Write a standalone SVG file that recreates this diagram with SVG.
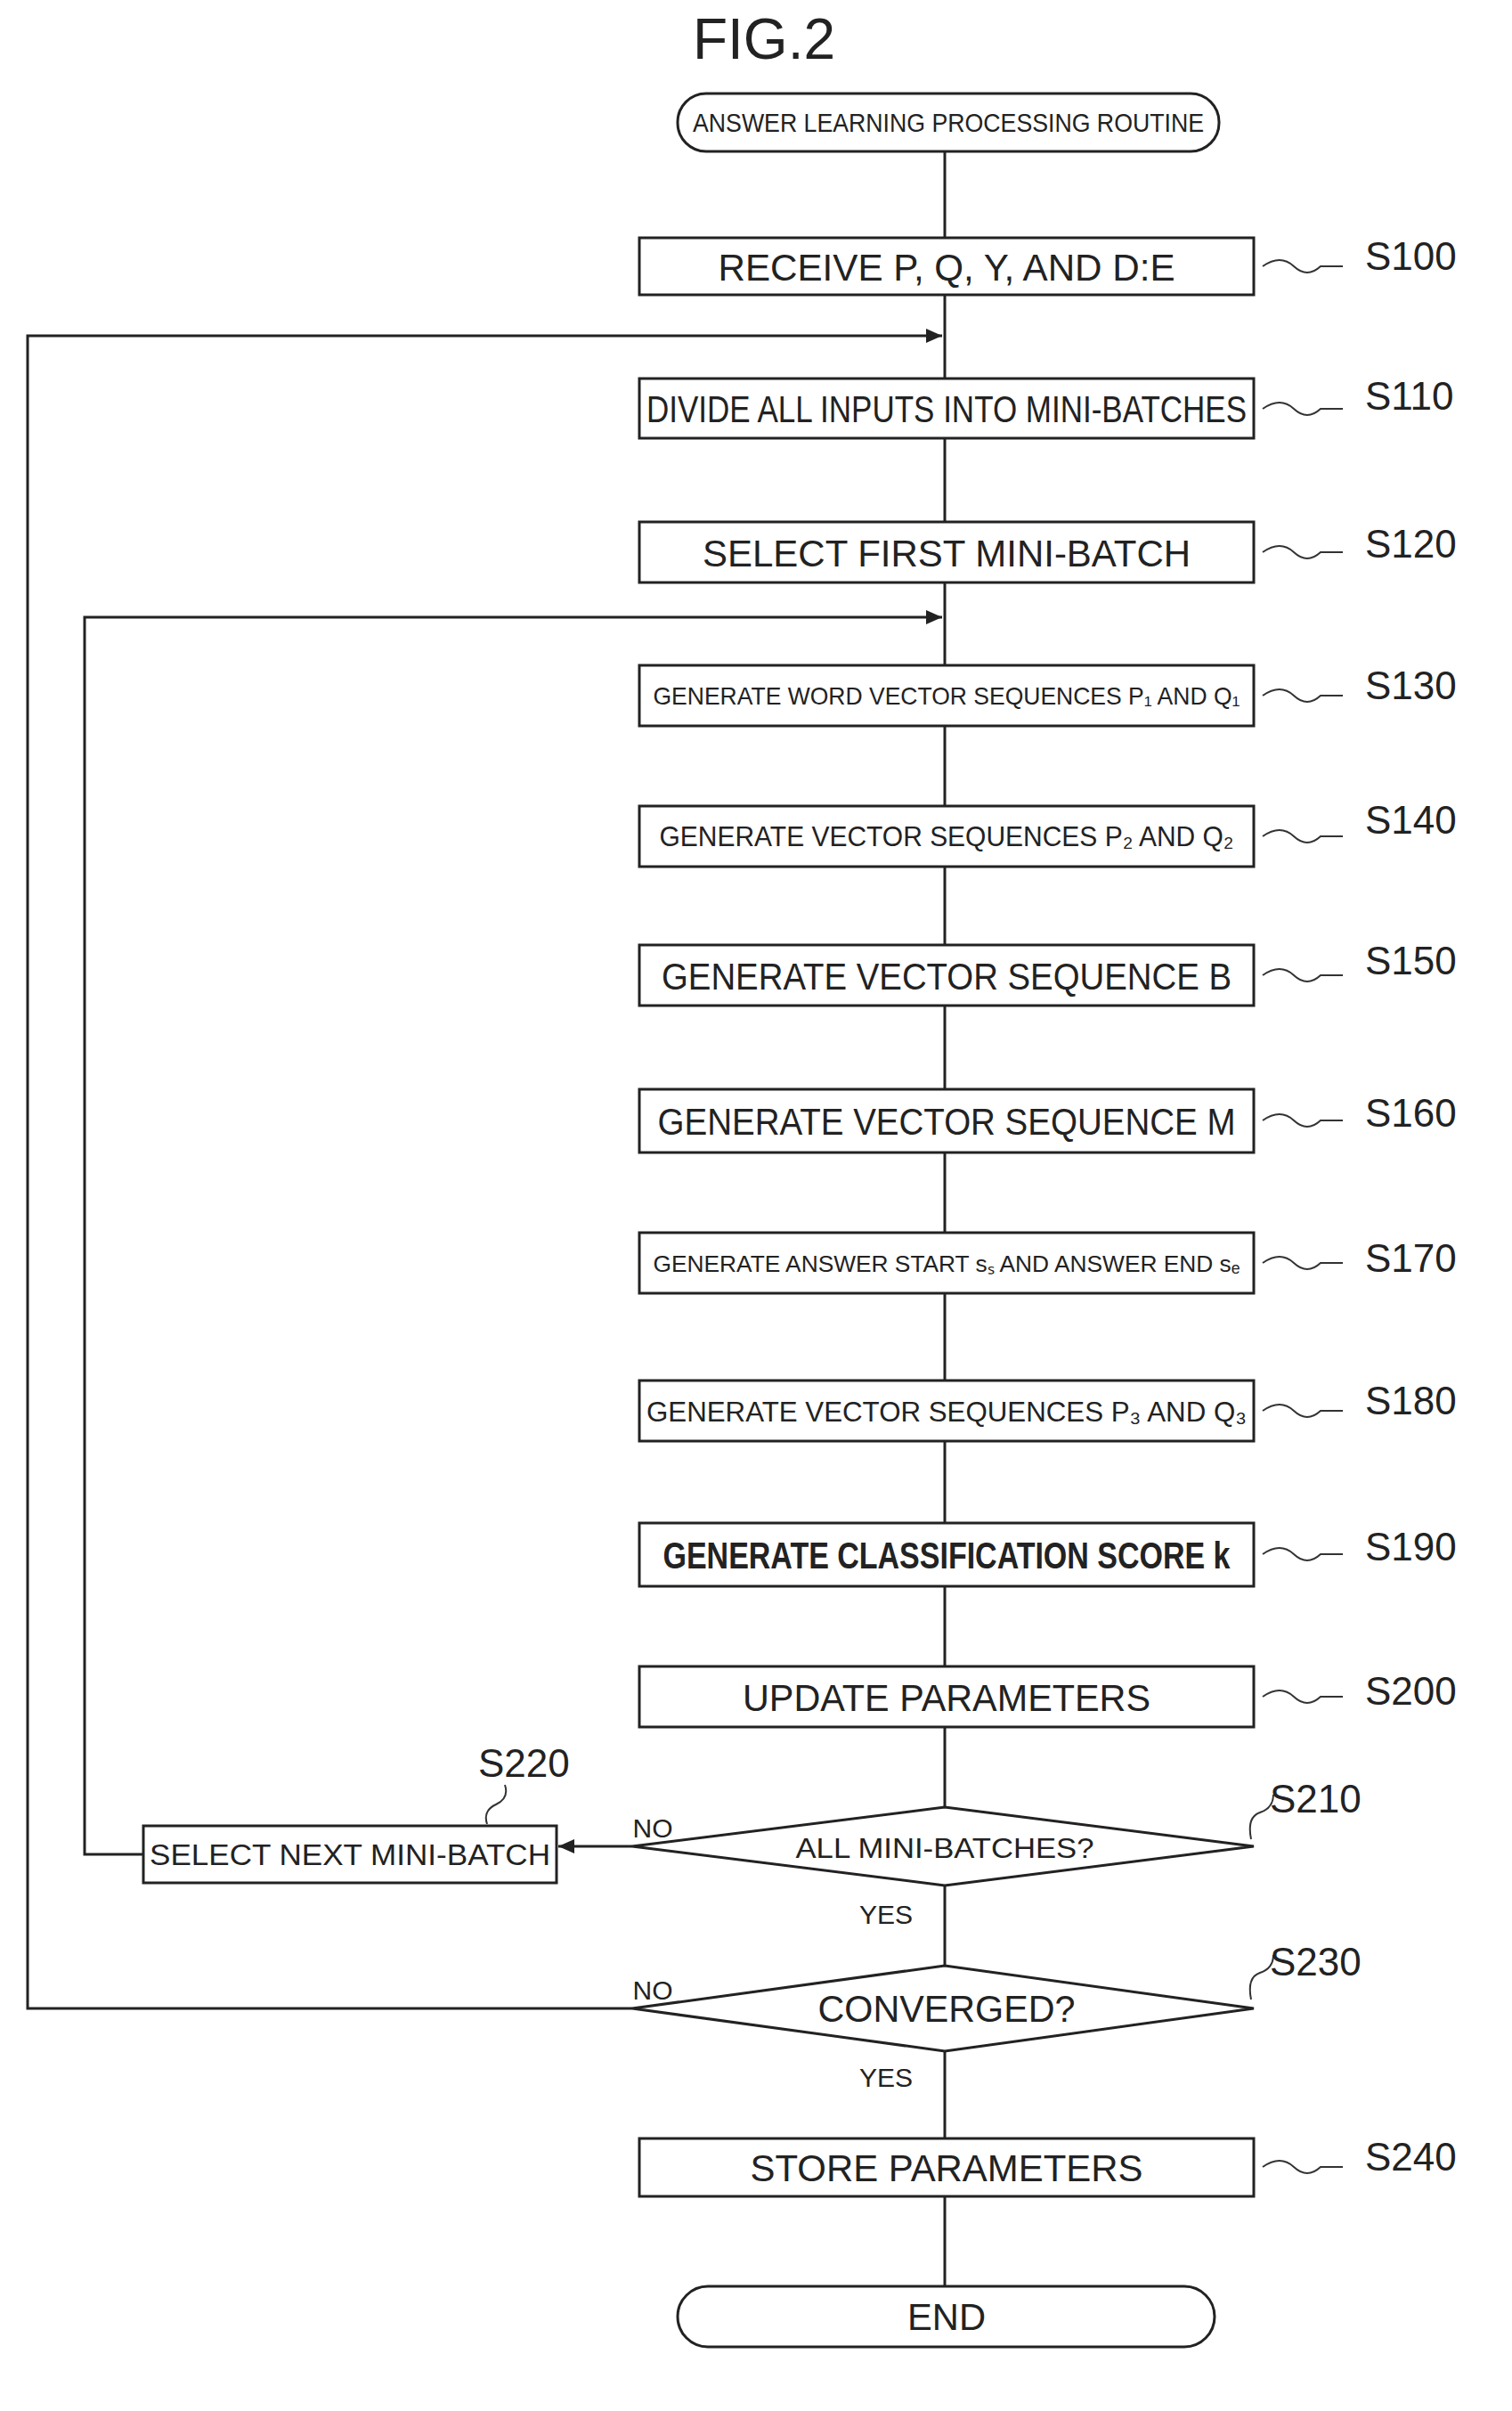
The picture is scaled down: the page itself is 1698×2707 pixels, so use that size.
<svg xmlns="http://www.w3.org/2000/svg" width="1698" height="2707" viewBox="0 0 1698 2707">
<style>
.b{fill:#fff;stroke:#222;stroke-width:3}
.l{fill:none;stroke:#222;stroke-width:3}
.s{fill:none;stroke:#333;stroke-width:2}
text{font-family:"Liberation Sans",Arial,sans-serif;fill:#222;text-anchor:middle}
.t{font-size:42px}
.lab{font-size:44px;text-anchor:start}
.yn{font-size:30px}
</style>
<defs><marker id="a" markerWidth="10" markerHeight="10" refX="9" refY="5" orient="auto" markerUnits="userSpaceOnUse"><path d="M0,0 L10,5 L0,10 Z" fill="#222"/></marker>
<marker id="a2" markerWidth="20" markerHeight="20" refX="18" refY="10" orient="auto" markerUnits="userSpaceOnUse"><path d="M0,2 L18,10 L0,18 Z" fill="#222"/></marker></defs>
<text x="858" y="66" style="font-size:64px">FIG.2</text>
<g id="connectors">
<path class="l" d="M1061,170 V2567"/>
<path class="l" d="M710,2255 H31 V377 H1058" marker-end="url(#a2)"/>
<path class="l" d="M161,2082 H95 V693 H1058" marker-end="url(#a2)"/>
<path class="l" d="M710,2073 H627" marker-end="url(#a2)"/>
</g>
<g id="start"><rect class="b" x="761" y="105" width="608" height="65" rx="32"/><text x="1065" y="148" style="font-size:30px" textLength="574" lengthAdjust="spacingAndGlyphs">ANSWER LEARNING PROCESSING ROUTINE</text></g>
<g id="S100"><rect class="b" x="718" y="267" width="690" height="64"/><text class="t" x="1063" y="315" textLength="513" lengthAdjust="spacingAndGlyphs">RECEIVE P, Q, Y, AND D:E</text></g>
<g id="S110"><rect class="b" x="718" y="425" width="690" height="67"/><text class="t" x="1063" y="474" textLength="674" lengthAdjust="spacingAndGlyphs">DIVIDE ALL INPUTS INTO MINI-BATCHES</text></g>
<g id="S120"><rect class="b" x="718" y="586" width="690" height="68"/><text class="t" x="1063" y="636" textLength="548" lengthAdjust="spacingAndGlyphs">SELECT FIRST MINI-BATCH</text></g>
<g id="S130"><rect class="b" x="718" y="747" width="690" height="68"/><text x="1063" y="791" style="font-size:28px" textLength="659" lengthAdjust="spacingAndGlyphs">GENERATE WORD VECTOR SEQUENCES P₁ AND Q₁</text></g>
<g id="S140"><rect class="b" x="718" y="905" width="690" height="68"/><text x="1063" y="950" style="font-size:31px" textLength="645" lengthAdjust="spacingAndGlyphs">GENERATE VECTOR SEQUENCES P₂ AND Q₂</text></g>
<g id="S150"><rect class="b" x="718" y="1061" width="690" height="68"/><text class="t" x="1063" y="1111" textLength="640" lengthAdjust="spacingAndGlyphs">GENERATE VECTOR SEQUENCE B</text></g>
<g id="S160"><rect class="b" x="718" y="1223" width="690" height="71"/><text class="t" x="1063" y="1274" textLength="649" lengthAdjust="spacingAndGlyphs">GENERATE VECTOR SEQUENCE M</text></g>
<g id="S170"><rect class="b" x="718" y="1384" width="690" height="68"/><text x="1063" y="1428" style="font-size:26px" textLength="659" lengthAdjust="spacingAndGlyphs">GENERATE ANSWER START sₛ AND ANSWER END sₑ</text></g>
<g id="S180"><rect class="b" x="718" y="1550" width="690" height="68"/><text x="1063" y="1596" style="font-size:32px" textLength="674" lengthAdjust="spacingAndGlyphs">GENERATE VECTOR SEQUENCES P₃ AND Q₃</text></g>
<g id="S190"><rect class="b" x="718" y="1710" width="690" height="71"/><text class="t" x="1063" y="1761" style="font-weight:bold" textLength="637" lengthAdjust="spacingAndGlyphs">GENERATE CLASSIFICATION SCORE k</text></g>
<g id="S200"><rect class="b" x="718" y="1871" width="690" height="68"/><text class="t" x="1063" y="1921" textLength="458" lengthAdjust="spacingAndGlyphs">UPDATE PARAMETERS</text></g>
<g id="S210"><polygon class="b" points="710,2073 1061,2029 1408,2073 1061,2117"/><text x="1061" y="2086" style="font-size:32px" textLength="335" lengthAdjust="spacingAndGlyphs">ALL MINI-BATCHES?</text></g>
<g id="S220"><rect class="b" x="161" y="2050" width="464" height="64"/><text x="393" y="2094" style="font-size:34px" textLength="450" lengthAdjust="spacingAndGlyphs">SELECT NEXT MINI-BATCH</text></g>
<g id="S230"><polygon class="b" points="710,2255 1061,2207 1408,2255 1061,2303"/><text class="t" x="1063" y="2270" textLength="289" lengthAdjust="spacingAndGlyphs">CONVERGED?</text></g>
<g id="S240"><rect class="b" x="718" y="2401" width="690" height="65"/><text class="t" x="1063" y="2449" textLength="441" lengthAdjust="spacingAndGlyphs">STORE PARAMETERS</text></g>
<g id="end"><rect class="b" x="761" y="2567" width="603" height="68" rx="34"/><text class="t" x="1063" y="2616" textLength="88" lengthAdjust="spacingAndGlyphs">END</text></g>
<g id="labels">
<text class="yn" x="733" y="2063">NO</text><text class="yn" x="733" y="2245">NO</text>
<text class="yn" x="995" y="2160">YES</text><text class="yn" x="995" y="2343">YES</text>
<path class="s" d="M1418,299 q20,-14 35,0 t30,0 h25"/><text class="lab" x="1533" y="303">S100</text>
<path class="s" d="M1418,459 q20,-14 35,0 t30,0 h25"/><text class="lab" x="1533" y="460">S110</text>
<path class="s" d="M1418,620 q20,-14 35,0 t30,0 h25"/><text class="lab" x="1533" y="626">S120</text>
<path class="s" d="M1418,781 q20,-14 35,0 t30,0 h25"/><text class="lab" x="1533" y="785">S130</text>
<path class="s" d="M1418,939 q20,-14 35,0 t30,0 h25"/><text class="lab" x="1533" y="936">S140</text>
<path class="s" d="M1418,1095 q20,-14 35,0 t30,0 h25"/><text class="lab" x="1533" y="1094">S150</text>
<path class="s" d="M1418,1258 q20,-14 35,0 t30,0 h25"/><text class="lab" x="1533" y="1265">S160</text>
<path class="s" d="M1418,1418 q20,-14 35,0 t30,0 h25"/><text class="lab" x="1533" y="1428">S170</text>
<path class="s" d="M1418,1584 q20,-14 35,0 t30,0 h25"/><text class="lab" x="1533" y="1588">S180</text>
<path class="s" d="M1418,1745 q20,-14 35,0 t30,0 h25"/><text class="lab" x="1533" y="1752">S190</text>
<path class="s" d="M1418,1905 q20,-14 35,0 t30,0 h25"/><text class="lab" x="1533" y="1914">S200</text>
<path class="s" d="M1405,2065 q-5,-25 10,-30 t15,-20"/><text class="lab" x="1426" y="2035">S210</text>
<path class="s" d="M1405,2245 q-5,-25 10,-30 t15,-20"/><text class="lab" x="1426" y="2218">S230</text>
<path class="s" d="M1418,2433 q20,-14 35,0 t30,0 h25"/><text class="lab" x="1533" y="2437">S240</text>
<path class="s" d="M547,2048 q-5,-15 10,-22 t10,-22"/><text class="lab" x="537" y="1995">S220</text>
</g>
</svg>
